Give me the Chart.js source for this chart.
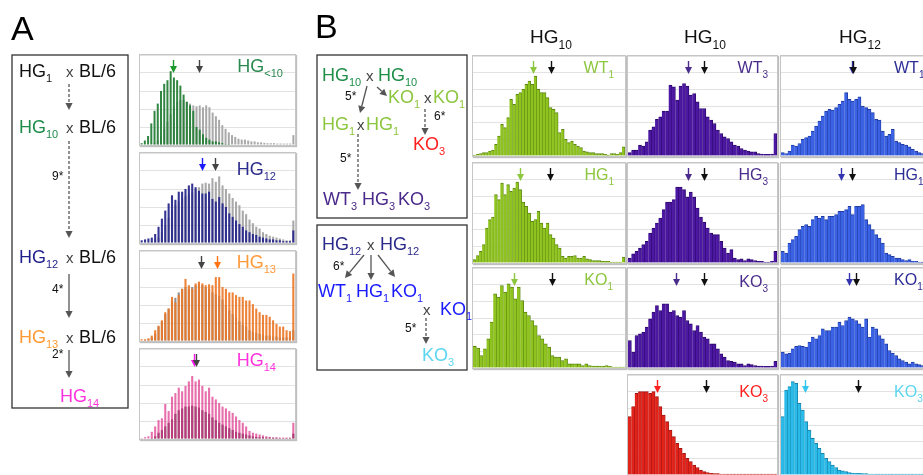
<!DOCTYPE html>
<html>
<head>
<meta charset="utf-8">
<script src="https://cdn.jsdelivr.net/npm/chart.js@4.4.1/dist/chart.umd.min.js"></script>
<style>
    html, body { margin: 0; padding: 0; background: #fff; }
    body { width: 923px; height: 475px; overflow: hidden; position: relative; font-family: "Liberation Sans", Arial, sans-serif; }
    .hist { position: absolute; border: 1px solid #c6c6c6; box-shadow: 1px 1px 1px rgba(0,0,0,0.25); background: #fff; }
    .hist canvas { display: block; }
    #ann { position: absolute; left: 0; top: 0; z-index: 5; }
</style>
</head>
<body>
<svg id="ann" width="923" height="475"></svg>
<script>
// ===========================
// Data (bar heights in grid units)
// ===========================

// --- Panel A: coloured line vs grey reference ---
const hgLt10 = [0.1, 0.25, 0.5, 1.2, 1.9, 2.3, 3.0, 3.4, 3.6, 4.1, 3.75, 3.6, 3.3, 2.8, 2.4, 2.2, 1.9, 1.0, 0.85, 0.6, 0.4, 0.3, 0.2, 0.2, 0.15, 0.1, 0.05, 0.05, 0, 0, 0, 0, 0, 0, 0, 0, 0, 0, 0, 0, 0, 0, 0, 0, 0, 0, 0, 0];
const hgLt10Ref = [0, 0, 0, 0, 0.1, 0.25, 0.5, 0.9, 1.3, 1.7, 2.1, 2.4, 2.5, 2.5, 2.4, 2.3, 2.2, 2.15, 2.2, 2.1, 2.2, 2.1, 1.8, 1.6, 1.4, 1.1, 0.9, 0.7, 0.55, 0.45, 0.35, 0.3, 0.3, 0.25, 0.2, 0.2, 0.15, 0.15, 0.12, 0.1, 0.1, 0.1, 0.08, 0.08, 0.08, 0.08, 0.08, 0.55];
const hg12 = [0.15, 0.2, 0.25, 0.3, 0.5, 0.9, 1.35, 1.8, 2.2, 2.65, 2.4, 2.85, 2.85, 3.0, 3.2, 3.3, 3.1, 2.9, 2.75, 2.75, 2.85, 2.45, 2.3, 2.55, 2.2, 2.0, 1.65, 1.45, 1.25, 1.05, 0.9, 0.7, 0.6, 0.5, 0.45, 0.35, 0.3, 0.25, 0.2, 0.2, 0.15, 0.15, 0.1, 0.1, 0.1, 0.7];
const hg12Ref = [0, 0, 0.05, 0.1, 0.2, 0.3, 0.6, 1.0, 1.4, 1.8, 2.1, 2.3, 2.5, 2.6, 2.7, 2.8, 3.0, 3.1, 3.3, 3.35, 3.3, 3.6, 3.4, 3.7, 3.2, 3.0, 2.75, 2.5, 2.3, 2.1, 1.8, 1.6, 1.3, 1.1, 0.9, 0.8, 0.6, 0.5, 0.4, 0.35, 0.3, 0.25, 0.2, 0.15, 0.15, 1.25];
const hg13 = [0.1, 0.1, 0.15, 0.3, 0.6, 0.85, 1.15, 1.6, 1.8, 2.45, 2.15, 2.55, 2.9, 3.45, 3.1, 2.9, 3.2, 3.3, 3.2, 3.1, 3.15, 3.1, 3.55, 3.55, 3.0, 2.9, 2.7, 2.7, 2.55, 2.45, 2.45, 2.25, 2.25, 2.05, 1.8, 1.6, 1.45, 1.45, 1.35, 1.15, 0.95, 0.8, 0.8, 0.6, 0.55, 3.75];
const hg13Ref = [0, 0.05, 0.1, 0.2, 0.4, 0.8, 1.1, 1.5, 1.8, 2.2, 2.4, 2.7, 2.9, 3.0, 2.9, 3.0, 3.1, 3.2, 3.1, 3.0, 2.9, 2.7, 2.6, 2.5, 2.3, 2.0, 1.7, 1.5, 1.3, 1.1, 0.9, 0.8, 0.6, 0.5, 0.45, 0.4, 0.35, 0.3, 0.3, 0.25, 0.25, 0.2, 0.2, 0.2, 0.2, 0.6];
const hg14 = [0.05, 0.1, 0.15, 0.4, 0.7, 1.05, 1.15, 1.95, 1.55, 2.35, 2.55, 2.85, 2.65, 2.95, 3.2, 3.5, 3.2, 3.3, 2.95, 2.65, 2.85, 2.35, 2.2, 2.0, 1.8, 1.7, 1.55, 1.45, 1.25, 1.05, 0.9, 0.7, 0.45, 0.35, 0.3, 0.25, 0.2, 0.15, 0.12, 0.1, 0.1, 0.08, 0.08, 0.08, 0.08, 0.9];
const hg14Ref = [0, 0, 0, 0.05, 0.15, 0.35, 0.5, 0.7, 0.9, 1.1, 1.4, 1.6, 1.7, 1.8, 1.8, 1.85, 1.8, 1.75, 1.6, 1.5, 1.4, 1.2, 1.05, 0.9, 0.8, 0.7, 0.6, 0.5, 0.4, 0.35, 0.3, 0.25, 0.2, 0.15, 0.12, 0.1, 0.1, 0.08, 0.08, 0.06, 0.06, 0.05, 0.05, 0.05, 0.05, 0.3];

// --- Panel B, column HG10 (first) ---
const b1WT1 = [0.05, 0.1, 0.15, 0.2, 0.2, 0.3, 0.35, 0.7, 1.2, 1.9, 1.7, 2.3, 3.4, 3.1, 3.7, 3.8, 4.0, 4.3, 4.5, 4.3, 4.8, 4.0, 3.8, 3.8, 3.5, 2.9, 2.8, 2.6, 1.4, 1.6, 1.0, 0.8, 0.9, 0.7, 0.6, 0.5, 0.3, 0.25, 0.2, 0.2, 0.15, 0.15, 0.15, 0.1, 0.05, 0.15, 0.15, 0.1, 0.2, 0.55];
const b1HG1 = [0.2, 0.45, 0.7, 1.1, 2.1, 2.6, 2.75, 4.1, 3.8, 4.8, 4.1, 4.7, 4.3, 4.5, 4.85, 4.4, 3.65, 3.4, 3.0, 2.5, 2.6, 3.1, 2.4, 2.1, 2.4, 1.7, 1.5, 1.1, 0.9, 0.4, 0.3, 0.4, 0.4, 0.45, 0.3, 0.3, 0.4, 0.25, 0.2, 0.15, 0.15, 0.15, 0.1, 0.1, 0.1, 0.05, 0.05, 0.05, 0.05, 0.35];
const b1KO1 = [1.3, 1.2, 0.75, 1.15, 1.75, 2.75, 4.45, 4.25, 4.95, 4.55, 5.05, 4.85, 4.15, 4.85, 4.05, 3.35, 3.15, 2.85, 2.55, 1.95, 1.75, 1.45, 1.25, 0.75, 0.65, 0.65, 0.45, 0.55, 0.25, 0.25, 0.25, 0.25, 0.15, 0.25, 0.15, 0.12, 0.12, 0.12, 0.1, 0.15, 0.1, 0.06, 0.06, 0.06, 0.06];

// --- Panel B, column HG10 (second) ---
const b2WT3 = [0.2, 0.35, 0.35, 0.65, 0.6, 0.85, 1.55, 1.75, 2.2, 2.35, 2.7, 2.7, 4.25, 4.15, 3.35, 4.2, 4.35, 4.2, 3.65, 3.75, 3.25, 2.85, 2.85, 2.35, 2.15, 1.95, 1.55, 1.35, 1.15, 1.05, 0.85, 0.65, 0.6, 0.45, 0.35, 0.3, 0.25, 0.25, 0.15, 0.12, 0.1, 0.1, 0.12, 1.35];
const b2HG3 = [0.3, 0.55, 0.7, 0.9, 1.1, 1.3, 1.8, 2.1, 2.4, 2.7, 3.2, 3.65, 3.65, 3.8, 4.55, 4.55, 4.4, 3.95, 4.25, 3.95, 3.3, 2.75, 2.45, 2.1, 1.8, 1.7, 1.7, 1.3, 0.9, 0.6, 0.8, 0.3, 0.2, 0.25, 0.15, 0.25, 0.2, 0.15, 0.1, 0.1, 0.06, 0.06, 0.1, 0.7];
const b2KO3 = [1.65, 0.95, 1.95, 2.05, 2.15, 2.45, 2.95, 3.35, 3.75, 3.45, 3.85, 3.85, 3.35, 3.45, 3.15, 3.05, 3.45, 2.85, 2.65, 2.25, 2.55, 2.15, 1.85, 1.75, 1.45, 1.45, 1.15, 0.85, 0.65, 0.45, 0.4, 0.35, 0.25, 0.25, 0.15, 0.25, 0.2, 0.15, 0.12, 0.12, 0.1, 0.1, 0.12, 0.4];
const b2KO3red = [3.5, 4.1, 4.9, 5.0, 5.0, 5.0, 4.9, 5.0, 4.7, 4.1, 3.6, 3.2, 2.7, 2.3, 1.9, 1.6, 1.3, 1.0, 0.8, 0.6, 0.45, 0.3, 0.2, 0.15, 0.1, 0.08, 0.08, 0.06, 0.06, 0.05, 0.05, 0.05, 0.05, 0.05, 0.05, 0.05, 0.05, 0.05, 0.05, 0.05, 0.05, 0.05, 0.05, 0.05];

// --- Panel B, column HG12 ---
const b3WT1 = [0.2, 0.15, 0.3, 0.65, 0.6, 0.75, 1.0, 1.1, 1.2, 1.5, 1.8, 2.1, 2.4, 2.7, 2.8, 2.75, 2.9, 3.1, 3.3, 3.8, 3.4, 3.3, 3.4, 3.55, 3.0, 2.9, 2.8, 2.6, 2.2, 2.15, 1.5, 1.2, 1.3, 1.6, 0.9, 0.8, 0.7, 0.65, 0.55, 0.4, 0.3, 0.2, 0.15, 0.1, 0.3];
const b3HG1 = [0.7, 0.6, 1.2, 1.4, 1.6, 2.0, 2.2, 2.3, 2.2, 2.6, 2.8, 2.7, 2.8, 2.6, 2.8, 2.8, 2.9, 3.1, 3.1, 3.2, 3.4, 2.9, 3.4, 3.4, 3.5, 2.6, 2.3, 2.0, 1.7, 1.5, 1.2, 0.6, 0.5, 0.4, 0.3, 0.3, 0.2, 0.15, 0.2, 0.1, 0.1, 0.06, 0.05, 0.05, 0.3];
const b3KO1 = [0.95, 0.85, 0.9, 1.15, 1.3, 1.35, 1.3, 1.25, 1.55, 1.85, 1.75, 1.95, 2.35, 2.25, 2.25, 2.45, 2.45, 2.75, 2.55, 2.85, 3.05, 2.95, 2.85, 2.65, 2.45, 2.95, 1.85, 2.45, 2.35, 1.95, 1.75, 1.45, 1.05, 0.9, 0.75, 0.55, 0.45, 0.35, 0.25, 0.35, 0.25, 0.2, 0.15, 0.1, 0.2];
const b3KO3 = [3.5, 5.1, 5.3, 5.6, 5.5, 4.3, 3.9, 3.2, 2.7, 2.2, 1.9, 1.6, 1.3, 1.0, 0.8, 0.6, 0.45, 0.3, 0.25, 0.2, 0.15, 0.12, 0.1, 0.1, 0.08, 0.08, 0.06, 0.06, 0.05, 0.05, 0.05, 0.05, 0.05, 0.05, 0.05, 0.05, 0.05, 0.05, 0.05, 0.05, 0.05, 0.05, 0.05, 0.05, 0.05];

// Mean arrows, in bin units: [coloured, black]
const meanLt10 = [9.8, 17.9];
const mean12 = [17.9, 21.8];
const mean13 = [22.3, 17.6];
const mean14 = [15.6, 16.0];
const meanB1WT1 = [19.1, 25.0];
const meanB1HG1 = [14.9, 24.7];
const meanB1KO1 = [11.5, 22.8];
const meanB2WT3 = [17.3, 22.0];
const meanB2HG3 = [17.3, 22.0];
const meanB2KO3 = [13.7, 22.0];
const meanB2KO3red = [8.0, 22.5];
const meanB3WT1 = [20.7, 21.2];
const meanB3HG1 = [17.5, 20.7];
const meanB3KO1 = [20.0, 22.0];
const meanB3KO3 = [6.7, 22.5];

// ===========================
// Mean arrow plugin
// ===========================
const meanArrows = {
    id: 'meanArrows',
    afterDatasetsDraw(chart, args, opts) {
        const ctx = chart.ctx;
        const xs = chart.scales.x;
        const top = chart.chartArea.top;
        (opts.marks || []).forEach(m => {
            const px = Math.round(xs.getPixelForValue(m.at)) + 0.5;
            ctx.save();
            ctx.strokeStyle = m.color;
            ctx.fillStyle = m.color;
            ctx.lineWidth = 1.4;
            ctx.beginPath();
            ctx.moveTo(px, top + 5);
            ctx.lineTo(px, top + 13);
            ctx.stroke();
            ctx.beginPath();
            ctx.moveTo(px - 3.5, top + 11);
            ctx.lineTo(px + 3.5, top + 11);
            ctx.lineTo(px, top + 18);
            ctx.closePath();
            ctx.fill();
            ctx.restore();
        });
    }
};

function labelsFor(arr) {
    return arr.map((_, i) => String(i + 1));
}

function makeHist(box, datasets, ymax, means, colours) {
    const div = document.createElement('div');
    div.className = 'hist';
    div.style.left = (box[0] - 1) + 'px';
    div.style.top = (box[1] - 1) + 'px';
    div.style.width = box[2] + 'px';
    div.style.height = box[3] + 'px';
    const cv = document.createElement('canvas');
    cv.width = box[2];
    cv.height = box[3];
    div.appendChild(cv);
    document.body.appendChild(div);

    new Chart(cv, {
        type: 'bar',
        data: { labels: labelsFor(datasets[0].data), datasets },
        options: {
            responsive: false,
            animation: false,
            events: [],
            layout: { padding: 0 },
            plugins: {
                legend: { display: false },
                tooltip: { enabled: false },
                meanArrows: { marks: [{ at: means[0], color: colours[0] }, { at: means[1], color: colours[1] }] }
            },
            scales: {
                x: { display: false },
                y: {
                    min: 0, max: ymax,
                    ticks: { display: false, stepSize: 1 },
                    grid: { color: '#e2e2e2', drawTicks: false },
                    border: { display: false }
                }
            }
        },
        plugins: [meanArrows]
    });
}

// Panel A: overlapping thin bars
function pairSets(col, ref, fill, refFill) {
    return [
        { data: col, backgroundColor: fill, grouped: false, barPercentage: 0.62, categoryPercentage: 1 },
        { data: ref, backgroundColor: refFill, grouped: false, barPercentage: 0.62, categoryPercentage: 1 }
    ];
}

// Panel B: contiguous bars with a dark top/right edge
function soloSet(data, fill, edge) {
    return [{
        data, backgroundColor: fill, borderColor: edge,
        borderWidth: { top: 1, right: 0.8, left: 0, bottom: 0 },
        borderSkipped: false,
        barPercentage: 1, categoryPercentage: 1
    }];
}

const GREY = '#a9a9a9';
makeHist([140, 55, 155, 90], pairSets(hgLt10, hgLt10Ref, 'rgba(38,128,56,0.95)', GREY), 5, meanLt10, ['#199a2a', '#444']);
makeHist([140, 153, 155, 90], pairSets(hg12, hg12Ref, 'rgba(40,40,140,0.95)', GREY), 5, mean12, ['#1a1aff', '#444']);
makeHist([140, 251, 155, 90], pairSets(hg13, hg13Ref, 'rgba(236,120,40,0.92)', '#8f8f8f'), 5, mean13, ['#ff7410', '#444']);
makeHist([140, 349, 155, 90], pairSets(hg14, hg14Ref, 'rgba(222,55,140,0.72)', '#5b4650'), 5, mean14, ['#ff10ee', '#444']);

const C1 = 473, C2 = 628, C3 = 781;
const R = [56, 163, 268, 375];
const LG = '#8fc31f', LGe = '#5a8412';
const PU = '#4c18a2', PUe = '#2b0868';
const BL = '#3b62e4', BLe = '#1f3b9e';
makeHist([C1, R[0], 152, 100], soloSet(b1WT1, LG, LGe), 6, meanB1WT1, ['#8dc63f', '#111']);
makeHist([C1, R[1], 152, 100], soloSet(b1HG1, LG, LGe), 6, meanB1HG1, ['#8dc63f', '#111']);
makeHist([C1, R[2], 152, 100], soloSet(b1KO1, LG, LGe), 6, meanB1KO1, ['#8dc63f', '#111']);
makeHist([C2, R[0], 149, 100], soloSet(b2WT3, PU, PUe), 6, meanB2WT3, ['#4a2c8c', '#111']);
makeHist([C2, R[1], 149, 100], soloSet(b2HG3, PU, PUe), 6, meanB2HG3, ['#4a2c8c', '#111']);
makeHist([C2, R[2], 149, 100], soloSet(b2KO3, PU, PUe), 6, meanB2KO3, ['#4a2c8c', '#111']);
makeHist([C2, R[3], 149, 100], soloSet(b2KO3red, '#e0241c', '#a01410'), 6, meanB2KO3red, ['#ff2020', '#111']);
makeHist([C3, R[0], 150, 100], soloSet(b3WT1, BL, BLe), 6, meanB3WT1, ['#3434b0', '#111']);
makeHist([C3, R[1], 150, 100], soloSet(b3HG1, BL, BLe), 6, meanB3HG1, ['#3434b0', '#111']);
makeHist([C3, R[2], 150, 100], soloSet(b3KO1, BL, BLe), 6, meanB3KO1, ['#3434b0', '#111']);
makeHist([C3, R[3], 150, 100], soloSet(b3KO3, '#2bbbe8', '#1580aa'), 6, meanB3KO3, ['#33c6ee', '#111']);

// ===========================
// Annotations (text, boxes, breeding arrows)
// ===========================
const svgParts = [];
function txt(x, y, main, sub, color, size, anchor) {
    const s = size || 18;
    const subSize = Math.round(s * 0.62);
    const shift = Math.round(s * 0.3);
    let inner = main;
    if (sub) inner += `<tspan font-size="${subSize}" dy="${shift}">${sub}</tspan>`;
    svgParts.push(`<text x="${x}" y="${y}" fill="${color}" font-size="${s}" text-anchor="${anchor || 'start'}" font-family="Liberation Sans, Arial, sans-serif">${inner}</text>`);
}
function arrow(x1, y1, x2, y2, dashed) {
    const ang = Math.atan2(y2 - y1, x2 - x1);
    const len = 7, wid = 3.6;
    const bx = x2 - len * Math.cos(ang), by = y2 - len * Math.sin(ang);
    const px = -Math.sin(ang) * wid, py = Math.cos(ang) * wid;
    svgParts.push(`<line x1="${x1}" y1="${y1}" x2="${bx}" y2="${by}" stroke="#555" stroke-width="1.3" ${dashed ? 'stroke-dasharray="3,2"' : ''}/>`);
    svgParts.push(`<polygon points="${x2},${y2} ${bx + px},${by + py} ${bx - px},${by - py}" fill="#555"/>`);
}
function rect(x, y, w, h) {
    svgParts.push(`<rect x="${x}" y="${y}" width="${w}" height="${h}" fill="none" stroke="#333" stroke-width="1.3"/>`);
}

// Panel letters
txt(11, 40, 'A', '', '#000', 34);
txt(315, 38, 'B', '', '#000', 34);

// Panel A scheme
rect(12, 55, 116, 353);
txt(19, 77, 'HG', '1', '#111');
txt(19, 133, 'HG', '10', '#1e8c4a');
txt(19, 263, 'HG', '12', '#1f1f8c');
txt(19, 343, 'HG', '13', '#ff9a33');
[77, 133, 263, 343].forEach(y => {
    txt(66, y, 'x', '', '#444', 15);
    txt(79, y, 'BL/6', '', '#111');
});
txt(60, 402, 'HG', '14', '#ff33dd');
txt(52, 180, '9*', '', '#111', 12);
txt(52, 293, '4*', '', '#111', 12);
txt(52, 358, '2*', '', '#111', 12);
arrow(69, 84, 69, 110, true);
arrow(69, 141, 69, 238, true);
arrow(69, 274, 69, 318, false);
arrow(69, 350, 69, 378, false);

// Panel A histogram labels
txt(283, 72, 'HG', '&lt;10', '#2a8a50', 18, 'end');
txt(276, 175, 'HG', '12', '#2c2c8e', 18, 'end');
txt(276, 268, 'HG', '13', '#ff9a3a', 18, 'end');
txt(276, 366, 'HG', '14', '#ff33dd', 18, 'end');

// Panel B scheme, box 1
rect(317, 55, 150, 163);
txt(322, 81, 'HG', '10', '#1f8f4a');
txt(366, 81, 'x', '', '#444', 15);
txt(378, 81, 'HG', '10', '#1f8f4a');
txt(345, 100, '5*', '', '#111', 12);
arrow(367, 86, 360, 113, false);
arrow(377, 87, 387, 96, false);
txt(388, 103, 'KO', '1', '#8dc63f');
txt(424, 103, 'x', '', '#444', 15);
txt(433, 103, 'KO', '1', '#8dc63f');
txt(434, 120, '6*', '', '#111', 12);
arrow(425, 109, 425, 135, true);
txt(413, 150, 'KO', '3', '#ff2020');
txt(322, 130, 'HG', '1', '#8dc63f');
txt(357, 130, 'x', '', '#444', 15);
txt(366, 130, 'HG', '1', '#8dc63f');
txt(340, 162, '5*', '', '#111', 12);
arrow(358, 134, 358, 190, true);
txt(323, 205, 'WT', '3', '#4a2a8a');
txt(362, 205, 'HG', '3', '#4a2a8a');
txt(398, 205, 'KO', '3', '#4a2a8a');

// Panel B scheme, box 2
rect(317, 225, 150, 145);
txt(322, 250, 'HG', '12', '#2a2a8a');
txt(367, 250, 'x', '', '#444', 15);
txt(380, 250, 'HG', '12', '#2a2a8a');
txt(333, 270, '6*', '', '#111', 12);
arrow(364, 255, 345, 278, false);
arrow(371, 255, 371, 280, false);
arrow(378, 255, 395, 277, false);
txt(318, 297, 'WT', '1', '#1a1aff');
txt(356, 297, 'HG', '1', '#1a1aff');
txt(391, 297, 'KO', '1', '#1a1aff');
txt(423, 315, 'x', '', '#444', 15);
txt(440, 315, 'KO', '1', '#1a1aff');
txt(405, 332, '5*', '', '#111', 12);
arrow(426, 318, 426, 344, true);
txt(422, 361, 'KO', '3', '#5cd6f0');

// Column headers
txt(551, 43, 'HG', '10', '#111', 19, 'middle');
txt(705, 43, 'HG', '10', '#111', 19, 'middle');
txt(860, 43, 'HG', '12', '#111', 19, 'middle');

// Panel B histogram labels
txt(614, 73, 'WT', '1', '#8dc63f', 16, 'end');
txt(614, 180, 'HG', '1', '#8dc63f', 16, 'end');
txt(613, 285, 'KO', '1', '#8dc63f', 16, 'end');
txt(768, 73, 'WT', '3', '#4a2c8c', 16, 'end');
txt(768, 180, 'HG', '3', '#4a2c8c', 16, 'end');
txt(768, 287, 'KO', '3', '#4a2c8c', 16, 'end');
txt(768, 397, 'KO', '3', '#ff2020', 16, 'end');
txt(894, 73, 'WT', '1', '#2d2d96', 16);
txt(894, 180, 'HG', '1', '#2d2d96', 16);
txt(894, 285, 'KO', '1', '#2d2d96', 16);
txt(894, 397, 'KO', '3', '#5cd6f0', 16);

document.getElementById('ann').innerHTML = svgParts.join('');
</script>
</body>
</html>
